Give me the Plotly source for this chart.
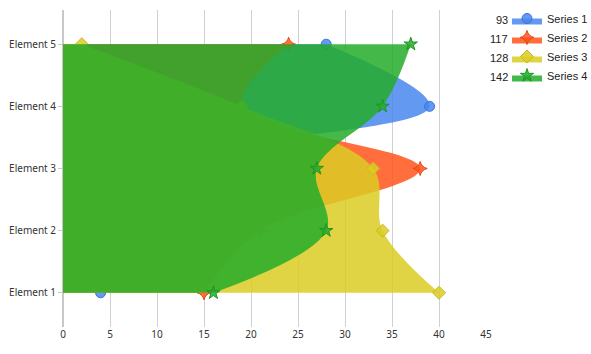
import plotly.graph_objects as go

categories = ["Element 1", "Element 2", "Element 3", "Element 4", "Element 5"]
series_names = ["Series 1", "Series 2", "Series 3", "Series 4"]
series1 = [4, 10, 12, 39, 28]
series2 = [15, 21, 38, 19, 24]
series3 = [40, 34, 33, 19, 2]
series4 = [16, 28, 27, 34, 37]
x_ticks = [0, 5, 10, 15, 20, 25, 30, 35, 40, 45]

all_series = [series1, series2, series3, series4]
fills = ["rgba(73,135,240,0.85)", "rgba(255,85,26,0.85)", "rgba(220,205,35,0.85)", "rgba(36,172,42,0.85)"]
lines = ["rgb(60,115,220)", "rgb(230,70,20)", "rgb(200,185,30)", "rgb(30,150,35)"]
symbols = ["circle", "star-diamond", "diamond", "star"]

fig = go.Figure()
for name, vals, fc, lc, sym in zip(series_names, all_series, fills, lines, symbols):
    fig.add_trace(go.Scatter(
        x=vals, y=categories, name=name, mode="lines+markers",
        fill="tozerox", fillcolor=fc,
        line=dict(shape="spline", width=0, color=fc),
        marker=dict(symbol=sym, size=10, color=fc, line=dict(color=lc, width=1)),
    ))

W, H = 591, 354
L, R, T, B = 63, 105, 10, 27
PW, PH = W - L - R, H - T - B
fig.update_layout(
    width=W, height=H, margin=dict(l=L, r=R, t=T, b=B, autoexpand=False),
    paper_bgcolor="white", plot_bgcolor="white",
    font=dict(family="Noto Sans", size=10, color="#333"),
    showlegend=True,
    legend=dict(x=(507 - L) / PW, y=1 + 6 / PH, xanchor="left", yanchor="top",
                font=dict(family="Liberation Sans", size=11, color="#222"),
                bgcolor="rgba(0,0,0,0)", itemwidth=30),
    xaxis=dict(range=[0, 45], tickvals=x_ticks, showgrid=True, gridcolor="#d0d0d0",
               zeroline=True, zerolinecolor="#c8c8c8", showline=False, ticks="",
               tickfont=dict(family="Noto Sans", size=10, color="#333")),
    yaxis=dict(type="category", categoryorder="array", categoryarray=categories,
               range=[-0.55, 4.55], showgrid=False, zeroline=False, showline=False,
               ticks="outside", ticklen=4, tickcolor="#c8c8c8",
               tickfont=dict(family="Noto Sans", size=10, color="#333")),
)

totals = [sum(s) for s in all_series]
for i, t in enumerate(totals):
    fig.add_annotation(x=(510 - L) / PW, y=1 - (20 + 19 * i - T) / PH,
                       xref="paper", yref="paper", text=str(t), showarrow=False,
                       xanchor="right", yanchor="middle",
                       font=dict(family="Liberation Sans", size=11, color="#222"))

fig.write_html("out.html")
